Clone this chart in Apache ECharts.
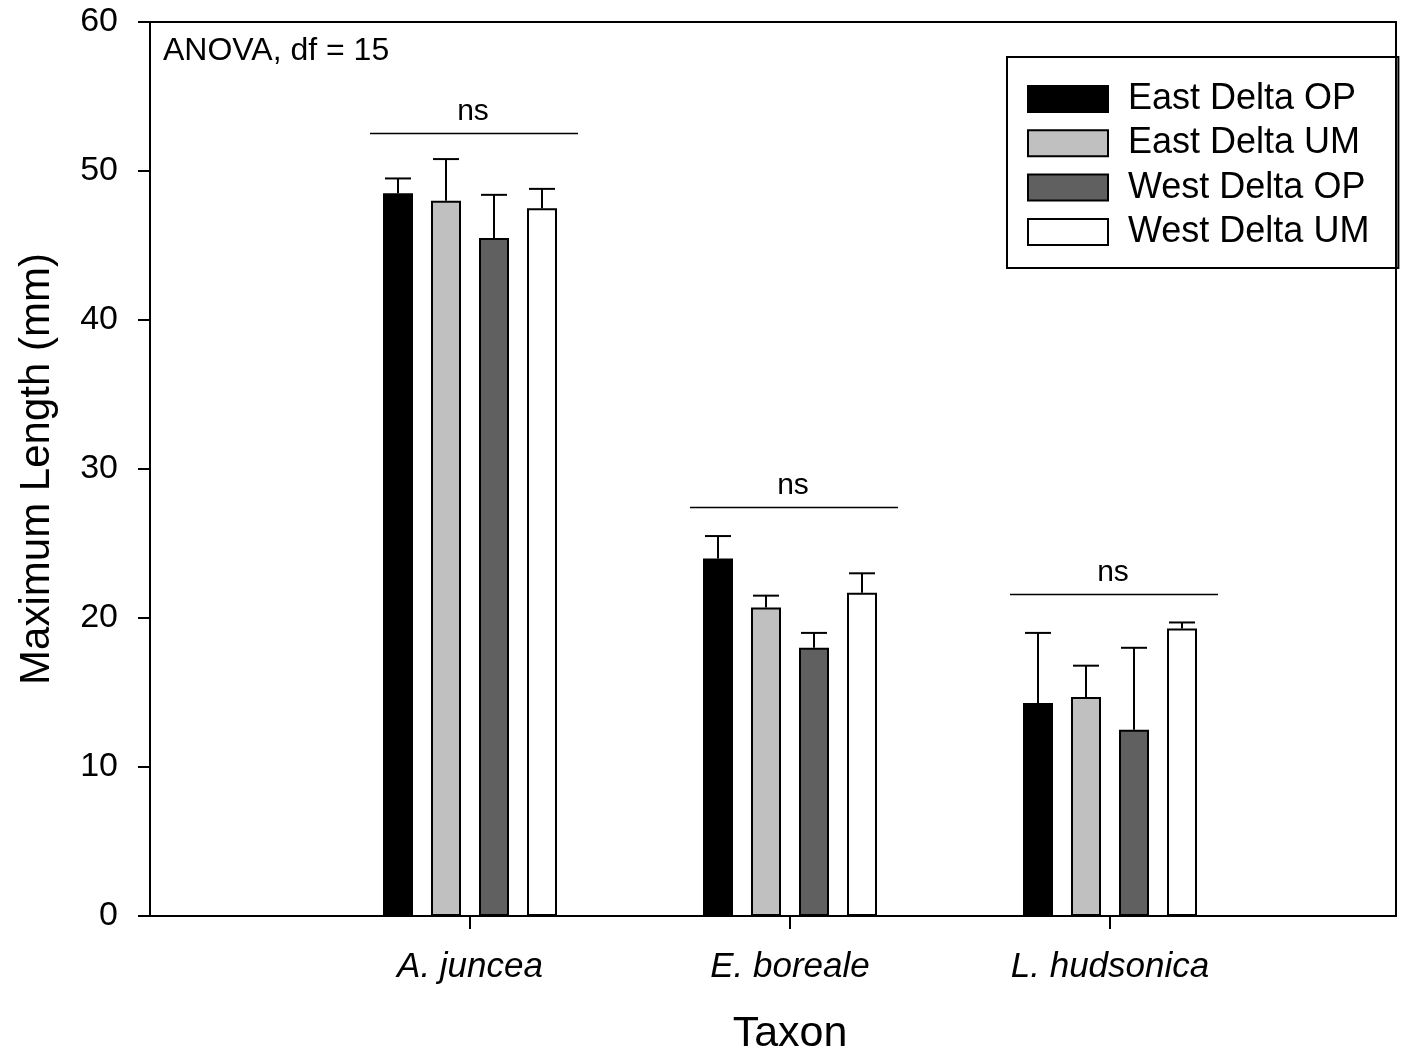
<!DOCTYPE html>
<html>
<head>
<meta charset="utf-8">
<script src="https://cdn.jsdelivr.net/npm/echarts@6/dist/echarts.min.js"></script>
<style>
  html, body { margin: 0; padding: 0; background: #fff; }
  #chart { width: 1410px; height: 1054px; }
</style>
</head>
<body>
<div id="chart"></div>
<script>
// 数据
const taxa = ['A. juncea', 'E. boreale', 'L. hudsonica'];
const seriesNames = ['East Delta OP', 'East Delta UM', 'West Delta OP', 'West Delta UM'];
const eastOP = [48.5, 24.0, 14.3];
const eastUM = [48.0, 20.7, 14.7];
const westOP = [45.5, 18.0, 12.5];
const westUM = [47.5, 21.7, 19.3];
// 误差线上端
const eastOPTop = [49.5, 25.5, 19.0];
const eastUMTop = [50.8, 21.5, 16.8];
const westOPTop = [48.4, 19.0, 18.0];
const westUMTop = [48.8, 23.0, 19.7];
// ns 标注线高度
const nsLevel = [52.55, 27.45, 21.6];
const yTicks = [0, 10, 20, 30, 40, 50, 60];

const font = 'Liberation Sans, Arial, sans-serif';
const colors = ['#000000', '#c0c0c0', '#606060', '#ffffff'];
const means = [eastOP, eastUM, westOP, westUM];
const tops = [eastOPTop, eastUMTop, westOPTop, westUMTop];

const chart = echarts.init(document.getElementById('chart'));

const errData = [];
means.forEach((m, s) => {
  m.forEach((v, i) => {
    errData.push([i, tops[s][i], v, s]);
  });
});

const series = means.map((m, s) => ({
  name: seriesNames[s],
  type: 'bar',
  xAxisIndex: 2,
  yAxisIndex: 2,
  barWidth: 30,
  barGap: '60%',
  itemStyle: {
    color: colors[s],
    borderColor: '#000',
    borderWidth: 2,
  },
  data: m,
}));

/* 误差线 */
series.push({
  type: 'custom',
  xAxisIndex: 2,
  yAxisIndex: 2,
  z: 5,
  silent: true,
  data: errData,
  renderItem(params, api) {
    const off = (api.value(3) - 1.5) * 48;
    const base = api.coord([api.value(0), api.value(2)]);
    const top = api.coord([api.value(0), api.value(1)]);
    const x = base[0] + off;
    const st = { stroke: '#000', lineWidth: 2 };
    return {
      type: 'group',
      children: [
        { type: 'line', shape: { x1: x, y1: base[1], x2: x, y2: top[1] }, style: st },
        { type: 'line', shape: { x1: x - 13, y1: top[1], x2: x + 13, y2: top[1] }, style: st },
      ],
    };
  },
});

/* ns 标注 */
series.push({
  type: 'custom',
  xAxisIndex: 2,
  yAxisIndex: 2,
  silent: true,
  data: nsLevel.map((v, i) => [i, v]),
  renderItem(params, api) {
    const p = api.coord([api.value(0), api.value(1)]);
    const y = Math.round(p[1]) + 0.5;
    return {
      type: 'group',
      children: [
        { type: 'line', shape: { x1: p[0] - 100, y1: y, x2: p[0] + 108, y2: y }, style: { stroke: '#000', lineWidth: 1.3 } },
        { type: 'text', x: p[0] + 3, y: y - 22, style: { text: 'ns', font: `30px ${font}`, fill: '#000', align: 'center', verticalAlign: 'middle' } },
      ],
    };
  },
});

const frameLine = { show: true, onZero: false, lineStyle: { color: '#000', width: 2 } };
const gridBase = { top: 22, bottom: 138, outerBoundsMode: 'none', containLabel: false };

const option = {
  animation: false,
  backgroundColor: '#fff',
  grid: [
    Object.assign({ left: 150, right: 14 }, gridBase),
    Object.assign({ left: 150, right: 14 }, gridBase),
    Object.assign({ left: 310, right: 140 }, gridBase),
  ],
  legend: {
    left: 1007,
    top: 57,
    orient: 'vertical',
    itemWidth: 80,
    itemHeight: 26,
    itemGap: 8.3,
    padding: [24, 29, 18, 20],
    borderColor: '#000',
    borderWidth: 2,
    icon: 'rect',
    data: seriesNames,
    textStyle: { fontFamily: font, fontSize: 36, color: '#000', padding: [0, 0, 0, 15] },
  },
  graphic: [{
    type: 'text',
    left: 163,
    top: 35,
    style: { text: 'ANOVA, df = 15', font: `32px ${font}`, fill: '#000' },
  }],
  xAxis: [
    {
      gridIndex: 0, type: 'value', min: 0, max: 1, position: 'bottom',
      axisLine: frameLine,
      axisTick: { show: false }, axisLabel: { show: false }, splitLine: { show: false },
    },
    {
      gridIndex: 1, type: 'value', min: 0, max: 1, position: 'top',
      axisLine: frameLine,
      axisTick: { show: false }, axisLabel: { show: false }, splitLine: { show: false },
    },
    {
      gridIndex: 2, type: 'category', data: taxa,
      axisLine: { show: false },
      axisTick: { show: true, alignWithLabel: true, length: 13, lineStyle: { color: '#000', width: 2 } },
      axisLabel: { margin: 34, fontFamily: font, fontSize: 35, fontStyle: 'italic', color: '#000' },
      name: 'Taxon', nameLocation: 'middle', nameGap: 97,
      nameTextStyle: { fontFamily: font, fontSize: 43, color: '#000' },
    },
  ],
  yAxis: [
    {
      gridIndex: 0, type: 'value', min: 0, max: 60, interval: 10,
      axisLine: frameLine,
      axisTick: { show: true, length: 12, lineStyle: { color: '#000', width: 2 } },
      axisLabel: {
        margin: 32, fontFamily: font, fontSize: 34, color: '#000',
        formatter: (v) => (yTicks.includes(v) ? String(v) : ''),
      },
      splitLine: { show: false },
      name: 'Maximum Length (mm)', nameLocation: 'middle', nameGap: 92,
      nameTextStyle: { fontFamily: font, fontSize: 42, color: '#000' },
    },
    {
      gridIndex: 1, type: 'value', min: 0, max: 60, position: 'right',
      axisLine: frameLine,
      axisTick: { show: false }, axisLabel: { show: false }, splitLine: { show: false },
    },
    {
      gridIndex: 2, type: 'value', min: 0, max: 60, show: false,
    },
  ],
  series,
};

chart.setOption(option);
</script>
</body>
</html>
